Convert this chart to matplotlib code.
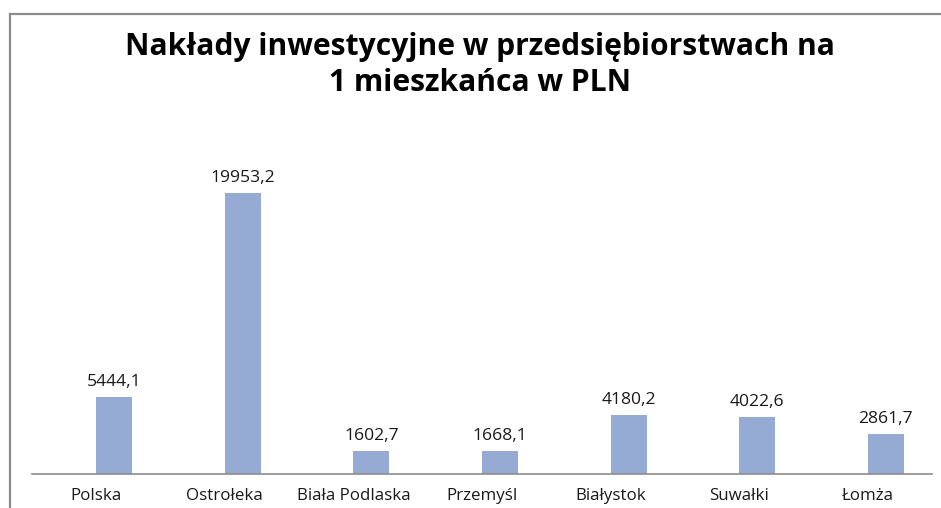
import matplotlib
matplotlib.use("Agg")
import matplotlib.pyplot as plt
from matplotlib.lines import Line2D

categories = ["Polska", "Ostrołeka", "Biała Podlaska", "Przemyśl", "Białystok", "Suwałki", "Łomża"]
values = [5444.1, 19953.2, 1602.7, 1668.1, 4180.2, 4022.6, 2861.7]
value_labels = ["5444,1", "19953,2", "1602,7", "1668,1", "4180,2", "4022,6", "2861,7"]
title = "Nakłady inwestycyjne w przedsiębiorstwach na\n1 mieszkańca w PLN"

W, H = 941, 508
fig = plt.figure(figsize=(W / 100, H / 100), dpi=100)
fig.patch.set_facecolor("white")

# outer chart border (cropped on right and bottom)
fig.add_artist(Line2D([10 / W, 10 / W], [0, 1 - 14 / H], color="#8c8c8c", lw=1.6,
                      transform=fig.transFigure))
fig.add_artist(Line2D([10 / W, 1], [1 - 14 / H, 1 - 14 / H], color="#8c8c8c", lw=1.6,
                      transform=fig.transFigure))

ax_left, ax_right = 32, 932
ax_bottom, ax_top = 474, 150
ax = fig.add_axes([ax_left / W, 1 - ax_bottom / H, (ax_right - ax_left) / W, (ax_bottom - ax_top) / H])

px_per_unit = (474 - 193) / 19953.2
ymax = (ax_bottom - ax_top) / px_per_unit

x = list(range(len(categories)))
offset = 0.14
bar_x = [i + offset for i in x]
ax.bar(bar_x, values, width=0.28, color="#95abd3", zorder=2)

for bx, v, lab in zip(bar_x, values, value_labels):
    ax.annotate(lab, (bx, v), xytext=(0, 5), textcoords="offset points",
                ha="center", va="bottom", fontsize=12.6, family="Open Sans", color="#1a1a1a")

ax.set_xlim(-0.5, 6.5)
ax.set_ylim(0, ymax)
ax.set_xticks(x)
ax.set_xticklabels(categories, fontsize=12.2, family="Open Sans", color="#1a1a1a")
ax.tick_params(axis="x", length=0, pad=10)
ax.set_yticks([])
for s in ["top", "right", "left"]:
    ax.spines[s].set_visible(False)
ax.spines["bottom"].set_color("#8c8c8c")
ax.spines["bottom"].set_linewidth(1.2)
ax.patch.set_alpha(0)

fig.text(480 / W, 1 - 65 / H, title, ha="center", va="center", fontsize=21.6,
         fontweight="bold", family="Open Sans", linespacing=1.3, color="black")

fig.savefig("out.png", dpi=100, facecolor="white")
